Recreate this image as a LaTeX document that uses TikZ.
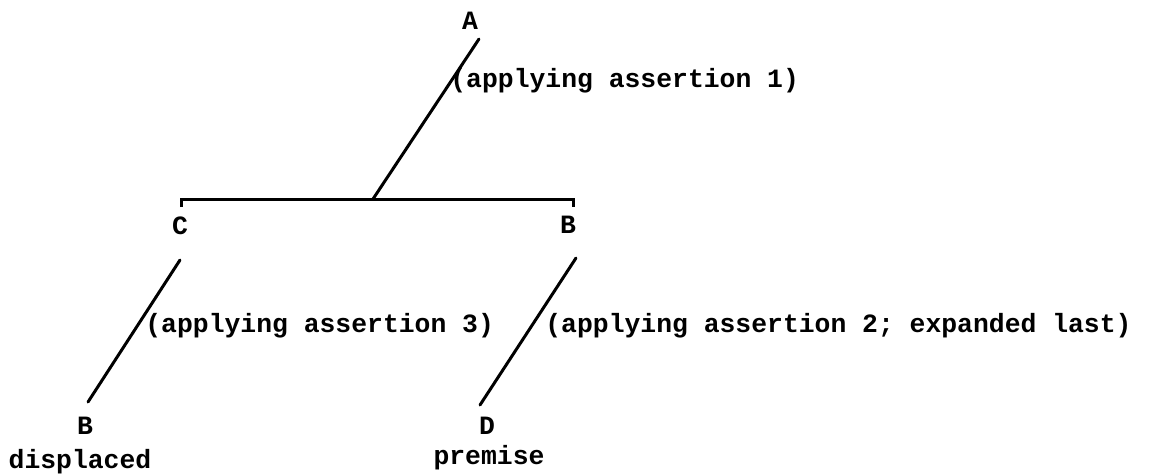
\documentclass[tikz,border=0pt]{standalone}
\usepackage{fontspec}
\setmonofont{Liberation Mono}
\usepackage{tikz}
\usetikzlibrary{positioning}
\tikzset{
  goal/.style={font=\ttfamily\bfseries\fontsize{13.2}{16}\selectfont, inner sep=0pt, anchor=base},
  note/.style={font=\ttfamily\bfseries\fontsize{13.2}{16}\selectfont, inner sep=0pt, anchor=base west},
  branch/.style={line width=1.5pt, line cap=round},
  bar/.style={line width=1.5pt},
}
\begin{document}
\begin{tikzpicture}[x=0.5pt, y=-0.5pt]
  \useasboundingbox (0,0) rectangle (1157,473);
  % goals
  \node[goal] (A) at (470,29) {A};
  \node[goal] (C) at (180,234) {C};
  \node[goal] (B) at (568,233) {B};
  \node[goal] (Bd) at (85,434) {B};
  \node[goal] (D) at (487,434) {D};
  \node[goal] (dis) at (80,468) {displaced};
  \node[goal] (prem) at (489,464) {premise};
  % labels
  \node[note] (lab1) at (450,87) {(applying assertion 1)};
  \node[note] (lab3) at (145,332) {(applying assertion 3)};
  \node[note] (lab2) at (545,332) {(applying assertion 2; expanded last)};
  % and-bar over C and B
  \coordinate (join) at (373,199);
  \draw[bar] ([shift={(1,-27)}]C.base) -- ([shift={(1,-35)}]C.base)
    -- ([shift={(5,-34)}]B.base) -- ([shift={(5,-26)}]B.base);
  \draw[branch] ([shift={(9,10)}]A.base) -- (join);
  \draw[branch] ([shift={(0,26)}]C.base) -- ([shift={(3,-32)}]Bd.base);
  \draw[branch] ([shift={(8,25)}]B.base) -- ([shift={(-7,-29)}]D.base);
\end{tikzpicture}
\end{document}
